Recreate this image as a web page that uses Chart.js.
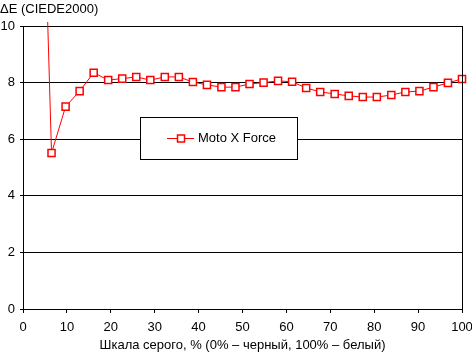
<!DOCTYPE html>
<html><head><meta charset="utf-8">
<script src="https://cdn.jsdelivr.net/npm/chart.js@4"></script>
<style>html,body{margin:0;padding:0;background:#fff}#wrap{width:472px;height:352px;position:relative}</style>
</head><body><div id="wrap"><canvas id="c" width="472" height="352"></canvas></div>
<script>
const seriesName = "Moto X Force";
const greyLevels = [3.2, 6.5, 9.7, 12.9, 16.1, 19.4, 22.6, 25.8, 29.0, 32.3, 35.5, 38.7, 41.9, 45.2, 48.4, 51.6, 54.8, 58.1, 61.3, 64.5, 67.7, 71.0, 74.2, 77.4, 80.6, 83.9, 87.1, 90.3, 93.5, 96.8, 100];
const deltaE = [23.0, 5.51, 7.15, 7.70, 8.35, 8.09, 8.14, 8.20, 8.09, 8.20, 8.20, 8.02, 7.92, 7.84, 7.84, 7.95, 8.00, 8.06, 8.03, 7.81, 7.67, 7.60, 7.53, 7.49, 7.49, 7.56, 7.67, 7.70, 7.84, 7.99, 8.13];
const xTicks = [0,10,20,30,40,50,60,70,80,90,100];
const yTicks = [0,2,4,6,8,10];
const yTitle = "ΔE (CIEDE2000)";
const xTitle = "Шкала серого, % (0% – черный, 100% – белый)";

const FONT = "'Liberation Sans', Arial, sans-serif";
const RED = "#ff0000";

const decor = {
  id: 'decor',
  afterDraw(chart) {
    const ctx = chart.ctx, a = chart.chartArea;
    ctx.save();
    ctx.strokeStyle = '#000'; ctx.lineWidth = 1;
    ctx.beginPath(); ctx.moveTo(Math.round(a.right) + 0.5, a.top); ctx.lineTo(Math.round(a.right) + 0.5, a.bottom); ctx.stroke();
    ctx.fillStyle = '#000'; ctx.font = "13px " + FONT;
    ctx.textBaseline = 'middle'; ctx.textAlign = 'left';
    ctx.fillText(yTitle, 0, 9);
    ctx.textAlign = 'center';
    ctx.fillText(xTitle, (a.left + a.right) / 2, 345);
    const bx = 140.5, by = 117.5, bw = 157, bh = 42;
    ctx.fillStyle = '#fff'; ctx.fillRect(bx, by, bw, bh);
    ctx.strokeStyle = '#000'; ctx.strokeRect(bx, by, bw, bh);
    const ly = 138.5;
    ctx.strokeStyle = RED; ctx.lineWidth = 1;
    ctx.beginPath(); ctx.moveTo(167, ly); ctx.lineTo(194, ly); ctx.stroke();
    ctx.fillStyle = '#fff'; ctx.lineWidth = 1.5;
    ctx.fillRect(177.5, ly - 3.5, 7, 7); ctx.strokeRect(177.5, ly - 3.5, 7, 7);
    ctx.fillStyle = '#000'; ctx.textAlign = 'left'; ctx.textBaseline = 'middle';
    ctx.font = "13px " + FONT;
    ctx.fillText(chart.data.datasets[0].label, 198, ly);
    ctx.restore();
  }
};

new Chart(document.getElementById('c'), {
  type: 'line',
  data: {
    datasets: [{
      label: seriesName,
      data: greyLevels.map((x, i) => ({x: x, y: deltaE[i]})),
      borderColor: RED, borderWidth: 1,
      pointStyle: 'rect', pointRadius: 5, pointBorderWidth: 1.5,
      pointBackgroundColor: '#fff', pointBorderColor: RED,
      tension: 0, clip: {left: 10, top: 4, right: 10, bottom: 10}
    }]
  },
  options: {
    responsive: false, animation: false,
    layout: {padding: {top: 26, right: 10, left: 0, bottom: 0}},
    plugins: {legend: {display: false}, tooltip: {enabled: false}},
    scales: {
      x: {
        type: 'linear', min: 0, max: 100,
        afterBuildTicks: s => { s.ticks = xTicks.map(v => ({value: v})); },
        afterFit: s => { s.height = 43; s.paddingLeft = 0; s.paddingRight = 0; },
        grid: {display: true, drawOnChartArea: false, drawTicks: true, tickLength: 4, color: '#000'},
        border: {display: true, color: '#000', width: 1},
        ticks: {color: '#000', font: {family: FONT, size: 13}, padding: 7, maxRotation: 0}
      },
      y: {
        min: 0, max: 10,
        afterBuildTicks: s => { s.ticks = yTicks.map(v => ({value: v})); },
        afterFit: s => { s.width = 23; s.paddingTop = 0; s.paddingBottom = 0; },
        grid: {display: true, drawOnChartArea: true, drawTicks: true, tickLength: 3, color: '#000'},
        border: {display: true, color: '#000', width: 1},
        ticks: {color: '#000', font: {family: FONT, size: 13}, padding: 5}
      }
    }
  },
  plugins: [decor]
});
</script></body></html>
